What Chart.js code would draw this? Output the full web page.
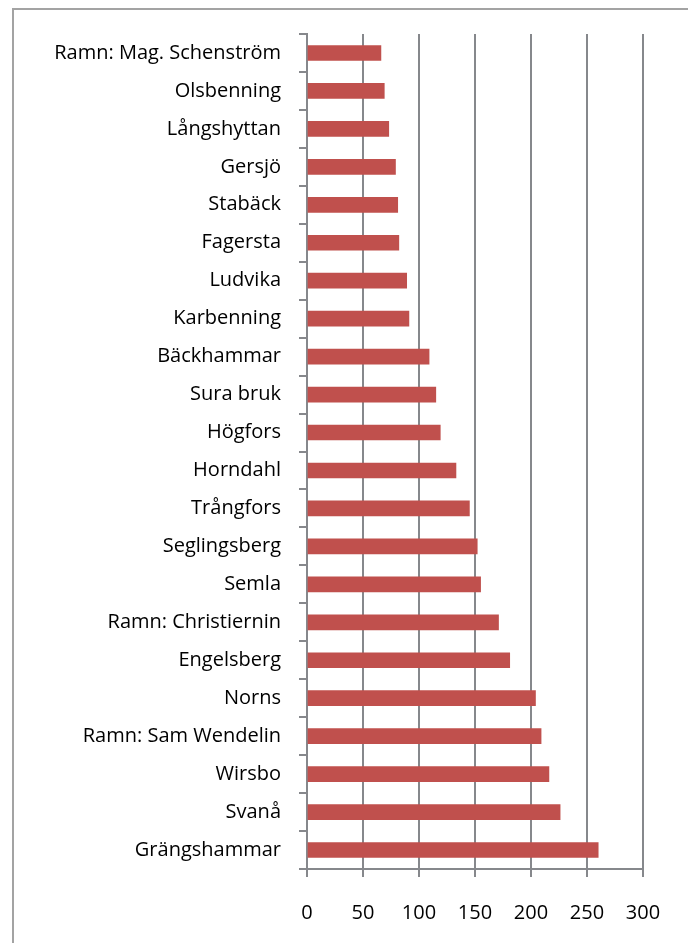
<!DOCTYPE html>
<html>
<head>
<meta charset="utf-8">
<script src="https://cdn.jsdelivr.net/npm/chart.js@4"></script>
<style>
  html, body { margin: 0; padding: 0; background: #fff; overflow: hidden; }
  .wrap { position: relative; width: 688px; height: 943px; }
  .frame {
    position: absolute; left: 12px; top: 8px;
    width: 700px; height: 960px;
    border: 2px solid #a3a3a3;
  }
  canvas { position: absolute; left: 0; top: 0; }
</style>
</head>
<body>
<div class="wrap">
  <div class="frame"></div>
  <canvas id="bruk" width="688" height="943"></canvas>
</div>
<script>
// bruk, top to bottom as in the picture
const places = [
  'Ramn: Mag. Schenström', 'Olsbenning', 'Långshyttan', 'Gersjö', 'Stabäck',
  'Fagersta', 'Ludvika', 'Karbenning', 'Bäckhammar', 'Sura bruk', 'Högfors',
  'Horndahl', 'Trångfors', 'Seglingsberg', 'Semla', 'Ramn: Christiernin',
  'Engelsberg', 'Norns', 'Ramn: Sam Wendelin', 'Wirsbo', 'Svanå', 'Grängshammar'
];
const amounts = [
  66, 69, 73, 79, 81,
  82, 89, 91, 109, 115, 119,
  133, 145, 152, 155, 171,
  181, 204, 209, 216, 226, 260
];
const xTicks = [0, 50, 100, 150, 200, 250, 300];

const gridGrey = '#86888c';
const font = { family: '"Open Sans", sans-serif', size: 20 };

new Chart(document.getElementById('bruk').getContext('2d'), {
  type: 'bar',
  data: {
    labels: places,
    datasets: [{
      data: amounts,
      backgroundColor: '#c0504d',
      barThickness: 15
    }]
  },
  options: {
    indexAxis: 'y',
    responsive: false,
    animation: false,
    layout: { padding: { top: 34, right: 45, left: 0, bottom: 0 } },
    plugins: {
      legend: { display: false },
      tooltip: { enabled: false }
    },
    scales: {
      x: {
        min: 0,
        max: 300,
        afterBuildTicks: (scale) => { scale.ticks = xTicks.map(v => ({ value: v })); },
        afterFit: (scale) => { scale.height = 74; },
        grid: { color: gridGrey, lineWidth: 2, tickLength: 8 },
        border: { color: gridGrey, width: 2 },
        ticks: { color: '#000', font: font, padding: 24, maxRotation: 0 }
      },
      y: {
        afterFit: (scale) => { scale.width = 307; },
        grid: { drawOnChartArea: false, color: gridGrey, lineWidth: 2, tickLength: 8 },
        border: { color: gridGrey, width: 2 },
        ticks: { color: '#000', font: font, padding: 18, autoSkip: false }
      }
    }
  }
});
</script>
</body>
</html>
